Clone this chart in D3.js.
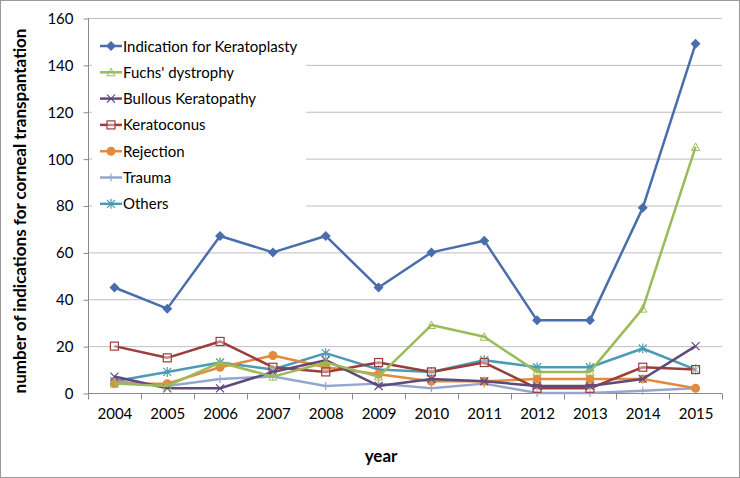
<!DOCTYPE html>
<html><head><meta charset="utf-8">
<script src="https://cdn.jsdelivr.net/npm/d3@7"></script>
<style>body{margin:0;background:#fff}svg{display:block}text{font-family:Lato,"Liberation Sans",sans-serif}</style>
</head><body><svg id="c" width="740" height="478"></svg>
<script>
const years = ["2004","2005","2006","2007","2008","2009","2010","2011","2012","2013","2014","2015"];
const yTicks = [0,20,40,60,80,100,120,140,160];
const indication = [45,36,67,60,67,45,60,65,31,31,79,149];
const fuchs = [4,3,13,7,13,7,29,24,9,9,36,105];
const bullous = [7,2,2,9,14,3,6,5,3,3,6,20];
const keratoconus = [20,15,22,11,9,13,9,13,2,2,11,10];
const rejection = [4,4,11,16,11,8,5,5,6,6,6,2];
const trauma = [5,3,6,7,3,4,2,4,0,0,1,2];
const others = [5,9,13,10,17,10,9,14,11,11,19,10];
const seriesNames = ["Indication for Keratoplasty","Fuchs' dystrophy","Bullous Keratopathy","Keratoconus","Rejection","Trauma","Others"];
const seriesValues = [indication,fuchs,bullous,keratoconus,rejection,trauma,others];
const colors = ["#4a6eab","#9bbb59","#5f4a7b","#9b3d3a","#e08b3e","#96a7cf","#4c9bb5"];
const markers = ["diamond","triangle","x","square","circle","plus","star"];

const svg = d3.select("#c");
const L=88,R=722,T=18,B=393;
svg.append("rect").attr("x",0.5).attr("y",0.5).attr("width",739).attr("height",477).attr("fill","#fff").attr("stroke","#9a9a9a");
const x = d3.scalePoint().domain(years).range([L,R]).padding(0.5);
const xb = d3.scaleBand().domain(years).range([L,R]);
const y = d3.scaleLinear().domain([0,160]).range([B,T]);

// grid
svg.append("g").selectAll("line").data(yTicks.filter(d=>d>0)).join("line")
 .attr("x1",L).attr("x2",R).attr("y1",d=>y(d)+0.5).attr("y2",d=>y(d)+0.5).attr("stroke","#bfbfbf").attr("stroke-width",1);

// y axis
const ya = svg.append("g").attr("transform",`translate(${L+0.5},0)`).call(d3.axisLeft(y).tickValues(yTicks).tickSize(5).tickPadding(10));
ya.select(".domain").attr("stroke","#8a8a8a").attr("d",`M0,${T}V${B}`);
ya.selectAll(".tick line").attr("stroke","#8a8a8a").attr("transform","translate(0,0.5)");
ya.selectAll("text").attr("font-size",15).attr("fill","#000").attr("font-family","Lato,sans-serif").attr("dy","0.36em");

// x axis
const xa = svg.append("g").attr("transform",`translate(0,${B+0.5})`).call(d3.axisBottom(x).tickSize(0).tickPadding(15));
xa.select(".domain").attr("stroke","#8a8a8a").attr("d",`M${L},0H${R}`);
xa.selectAll("text").attr("font-size",15).attr("fill","#000").attr("font-family","Lato,sans-serif");
const bounds = years.map(d=>xb(d)).concat([R]);
xa.append("g").selectAll("line").data(bounds).join("line")
 .attr("x1",d=>Math.round(d)+0.5).attr("x2",d=>Math.round(d)+0.5).attr("y1",0).attr("y2",6).attr("stroke","#8a8a8a");

// titles
svg.append("text").attr("x",381).attr("y",462).attr("text-anchor","middle").attr("font-size",17).attr("font-weight","bold").text("year");
svg.append("text").attr("transform",`translate(26,211) rotate(-90)`).attr("text-anchor","middle").attr("font-size",17).attr("font-weight","bold").text("number of indications for corneal transpantation");

function drawMarker(g,type,color){
  const s=4;
  if(type==="diamond") g.append("path").attr("d",`M0,${-s-1}L${s+1},0L0,${s+1}L${-s-1},0Z`).attr("fill",color);
  else if(type==="triangle") g.append("path").attr("d",`M0,${-s}L${s},${s-0.5}L${-s},${s-0.5}Z`).attr("fill","none").attr("stroke",color).attr("stroke-width",1);
  else if(type==="x") g.append("path").attr("d",`M${-s},${-s}L${s},${s}M${-s},${s}L${s},${-s}`).attr("stroke",color).attr("stroke-width",1.2);
  else if(type==="square") g.append("rect").attr("x",-s).attr("y",-s).attr("width",2*s).attr("height",2*s).attr("fill","#fff").attr("fill-opacity",0.4).attr("stroke",color).attr("stroke-width",1.2);
  else if(type==="circle") g.append("circle").attr("r",s+0.5).attr("fill",color);
  else if(type==="plus") g.append("path").attr("d",`M${-s},0H${s}M0,${-s}V${s}`).attr("stroke",color).attr("stroke-width",1.2);
  else if(type==="star") g.append("path").attr("d",`M${-s},${-s}L${s},${s}M${-s},${s}L${s},${-s}M0,${-s-1}V${s+1}`).attr("stroke",color).attr("stroke-width",1.2);
}

const line = d3.line().x((d,i)=>x(years[i])).y(d=>y(d));
for(let k=seriesValues.length-1;k>=0;k--){
  const vals=seriesValues[k], c=colors[k];
  const g=svg.append("g");
  g.append("path").attr("d",line(vals)).attr("fill","none").attr("stroke",c).attr("stroke-width",2.5).attr("stroke-linejoin","round");
  vals.forEach((v,i)=>{ const m=g.append("g").attr("transform",`translate(${x(years[i])},${y(v)})`); drawMarker(m,markers[k],c); });
}

// legend
const lg = svg.append("g");
lg.append("rect").attr("x",92).attr("y",31).attr("width",214).attr("height",186).attr("fill","#fff");
seriesNames.forEach((n,k)=>{
  const yy = 46 + k*26.3;
  const g = lg.append("g");
  g.append("line").attr("x1",100).attr("x2",122).attr("y1",yy).attr("y2",yy).attr("stroke",colors[k]).attr("stroke-width",2.5);
  drawMarker(g.append("g").attr("transform",`translate(111,${yy})`),markers[k],colors[k]);
  g.append("text").attr("x",123).attr("y",yy+5.5).attr("font-size",15).attr("fill","#000").text(n);
});
</script></body></html>
